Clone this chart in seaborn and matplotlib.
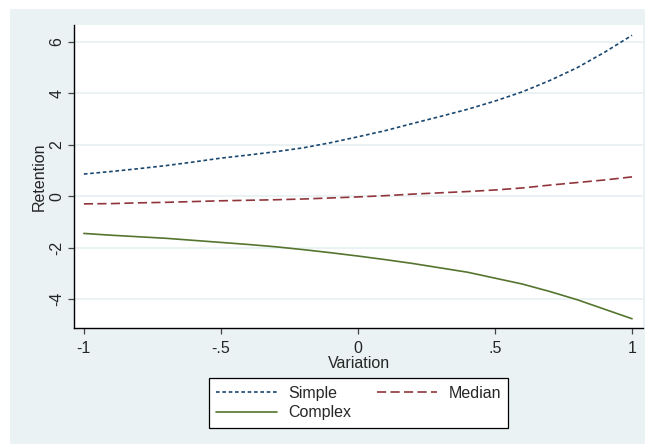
import numpy as np
import pandas as pd
import matplotlib
matplotlib.use("Agg")
import matplotlib.pyplot as plt
import seaborn as sns
from matplotlib.patches import Rectangle

# values
variation = [-1.0, -0.9, -0.8, -0.7, -0.6, -0.5, -0.4, -0.3, -0.2, -0.1, 0.0,
             0.1, 0.2, 0.3, 0.4, 0.5, 0.6, 0.7, 0.8, 0.9, 1.0]
simple = [0.86, 0.96, 1.07, 1.19, 1.33, 1.48, 1.60, 1.73, 1.88, 2.08, 2.31,
          2.55, 2.83, 3.10, 3.38, 3.70, 4.06, 4.50, 5.00, 5.60, 6.26]
median = [-0.30, -0.29, -0.26, -0.24, -0.21, -0.18, -0.16, -0.14, -0.11, -0.07, -0.03,
          0.02, 0.08, 0.13, 0.18, 0.24, 0.32, 0.43, 0.53, 0.63, 0.75]
complex_ = [-1.45, -1.52, -1.58, -1.64, -1.72, -1.80, -1.88, -1.97, -2.08, -2.20, -2.33,
            -2.47, -2.62, -2.79, -2.96, -3.19, -3.42, -3.71, -4.03, -4.40, -4.77]

x_ticks = [-1, -0.5, 0, 0.5, 1]
x_labels = ["-1", "-.5", "0", ".5", "1"]
y_ticks = [-4, -2, 0, 2, 4, 6]
y_labels = ["-4", "-2", "0", "2", "4", "6"]

df = pd.DataFrame({
    "Variation": variation * 3,
    "Retention": simple + median + complex_,
    "group": ["Simple"] * 21 + ["Median"] * 21 + ["Complex"] * 21,
})

bg = "#eaf2f3"
palette = {"Simple": "#1a476f", "Median": "#90353b", "Complex": "#55752f"}
dashes = {"Simple": (2.2, 1.6), "Median": (5.5, 2.6), "Complex": ""}

sns.set_style("white")
plt.rcParams["font.family"] = ["Liberation Sans", "DejaVu Sans"]
plt.rcParams["font.size"] = 11.5

fig = plt.figure(figsize=(6.45, 4.44), dpi=100, facecolor="white")
fig.patches.append(Rectangle((10 / 645, 0), 1, 435 / 444, transform=fig.transFigure,
                             facecolor=bg, edgecolor="none", zorder=-10))
ax = fig.add_axes([74 / 645, 1 - 328 / 444, 569 / 645, 303 / 444])
ax.set_facecolor("white")

sns.lineplot(data=df, x="Variation", y="Retention", hue="group", style="group",
             palette=palette, dashes=dashes, linewidth=1.2, ax=ax, legend=False)

ax.set_xlim(-1.036, 1.04)
ax.set_ylim(-5.13, 6.66)
ax.set_xticks(x_ticks)
ax.set_xticklabels(x_labels)
ax.set_yticks(y_ticks)
ax.set_yticklabels(y_labels, rotation=90, va="center")
ax.yaxis.grid(True, color=bg, linewidth=1.4)
ax.set_axisbelow(True)

for side in ["top", "right"]:
    ax.spines[side].set_visible(False)
for side in ["left", "bottom"]:
    ax.spines[side].set_color("black")
    ax.spines[side].set_linewidth(1.0)

ax.tick_params(axis="both", length=4.5, width=0.9, color="#444444", pad=2.5,
               labelsize=11.5, direction="out", bottom=True, left=True)
ax.tick_params(axis="x", pad=4.5)
ax.set_xlabel("Variation", fontsize=11.5, labelpad=0)
ax.set_ylabel("Retention", fontsize=11.5, labelpad=2)

handles = {}
for name in ["Simple", "Median", "Complex"]:
    handles[name] = plt.Line2D([], [], color=palette[name], linewidth=1.2,
                               dashes=dashes[name] if dashes[name] else (None, None),
                               linestyle="-" if name == "Complex" else "--")
order = ["Simple", "Complex", "Median"]
leg = ax.legend([handles[n] for n in order], order, ncol=2, loc="upper center",
                bbox_to_anchor=(0.5, -0.14), frameon=True, fancybox=False,
                edgecolor="black", facecolor="white", framealpha=1,
                handlelength=3.8, handletextpad=0.7, columnspacing=1.6,
                borderpad=0.45, labelspacing=0.3, fontsize=11.5)
leg.get_frame().set_linewidth(0.9)

fig.savefig("out.png", dpi=100, facecolor="white")
